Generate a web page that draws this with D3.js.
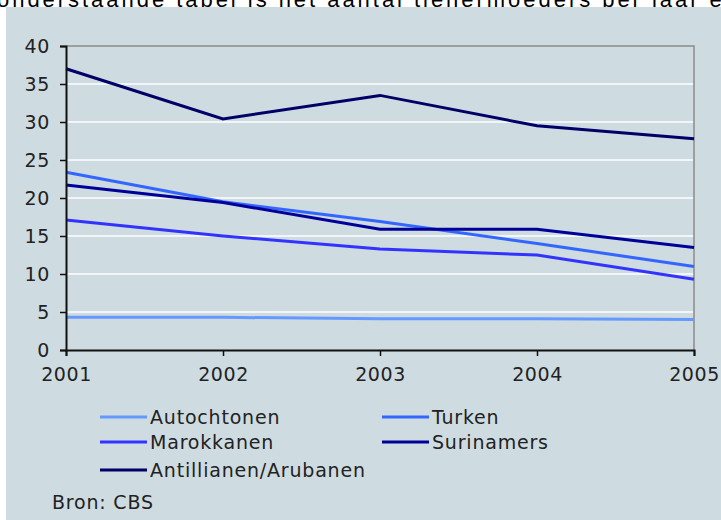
<!DOCTYPE html>
<html>
    <head>
        <title>Tienermoeders per jaar</title>
        <meta charset="UTF-8">
        <script src="https://d3js.org/d3.v7.min.js"></script>
        <style>
            body { margin: 0; background: #ffffff; }
            svg { display: block; }
        </style>
    </head>
    <body>
        <svg id="chart" width="721" height="520"></svg>
        <script>
            var years = [2001, 2002, 2003, 2004, 2005];
            var yTicks = [0, 5, 10, 15, 20, 25, 30, 35, 40];

            var seriesNames = ["Autochtonen", "Turken", "Marokkanen", "Surinamers", "Antillianen/Arubanen"];
            var autochtonen = [4.3, 4.3, 4.1, 4.1, 4.0];
            var turken = [23.4, 19.5, 16.9, 14.0, 11.0];
            var marokkanen = [17.1, 15.0, 13.3, 12.5, 9.3];
            var surinamers = [21.7, 19.4, 15.9, 15.9, 13.5];
            var antillianen = [37.0, 30.4, 33.5, 29.5, 27.8];
            var seriesColors = ["#6699ff", "#3366ff", "#3333ff", "#000099", "#000066"];

            var svg = d3.select("#chart");
            var font = "DejaVu Sans, Verdana, sans-serif";

            // cut-off sentence from the page above the chart
            svg.append("text")
                .attr("x", -3)
                .attr("y", 7)
                .attr("textLength", 740)
                .attr("lengthAdjust", "spacing")
                .style("font-family", "Liberation Sans, Arial, sans-serif")
                .style("font-size", "22px")
                .attr("fill", "#000")
                .text("onderstaande tabel is het aantal tienermoeders per jaar en");

            svg.append("rect")
                .attr("x", 6).attr("y", 7)
                .attr("width", 715).attr("height", 513)
                .attr("fill", "#cedce1");

            var x = d3.scaleLinear().domain([2001, 2005]).range([66, 694]);
            var y = d3.scaleLinear().domain([0, 40]).range([350, 46]);

            // gridlines
            svg.append("g").selectAll("line")
                .data(yTicks.filter(function(d) { return d > 0 && d < 40; }))
                .join("line")
                .attr("x1", 66).attr("x2", 694)
                .attr("y1", function(d) { return y(d); })
                .attr("y2", function(d) { return y(d); })
                .attr("stroke", "#ffffff")
                .attr("stroke-width", 1.5);

            // top and right frame
            svg.append("path")
                .attr("d", "M66," + y(40) + "H" + x(2005) + "V" + y(0))
                .attr("fill", "none")
                .attr("stroke", "#8a8a8a")
                .attr("stroke-width", 1.5);

            var series = [autochtonen, turken, marokkanen, surinamers, antillianen];
            var line = d3.line()
                .x(function(d, i) { return x(years[i]); })
                .y(function(d) { return y(d); });

            svg.append("g").selectAll("path")
                .data(series)
                .join("path")
                .attr("d", line)
                .attr("fill", "none")
                .attr("stroke", function(d, i) { return seriesColors[i]; })
                .attr("stroke-width", 3);

            var yAxis = d3.axisLeft(y).tickValues(yTicks).tickSize(6).tickPadding(10);
            var gy = svg.append("g").attr("transform", "translate(66,0)").call(yAxis);

            var xAxis = d3.axisBottom(x).tickValues(years).tickFormat(d3.format("d")).tickSize(6).tickPadding(12);
            var gx = svg.append("g").attr("transform", "translate(0,350)").call(xAxis);

            [gy, gx].forEach(function(g) {
                g.select(".domain").attr("stroke", "#111").attr("stroke-width", 2);
                g.selectAll(".tick line").attr("stroke", "#111").attr("stroke-width", 1.5);
                g.selectAll("text")
                    .style("font-family", font)
                    .style("font-size", "19px")
                    .style("letter-spacing", "0.6px")
                    .attr("fill", "#222");
            });

            // legend
            var legendX = [100, 382];
            var legendY = [417, 442, 470];
            var legend = svg.append("g").selectAll("g")
                .data(seriesNames)
                .join("g")
                .attr("transform", function(d, i) {
                    return "translate(" + legendX[i % 2] + "," + legendY[Math.floor(i / 2)] + ")";
                });
            legend.append("line")
                .attr("x1", 0).attr("x2", 47)
                .attr("stroke", function(d, i) { return seriesColors[i]; })
                .attr("stroke-width", 3);
            legend.append("text")
                .attr("x", 50)
                .attr("y", 7)
                .style("font-family", font)
                .style("font-size", "19px")
                .style("letter-spacing", "0.8px")
                .attr("fill", "#222")
                .text(function(d) { return d; });

            svg.append("text")
                .attr("x", 52)
                .attr("y", 509)
                .style("font-family", font)
                .style("font-size", "19px")
                .style("letter-spacing", "0.8px")
                .attr("fill", "#222")
                .text("Bron: CBS");
        </script>
    </body>
</html>
